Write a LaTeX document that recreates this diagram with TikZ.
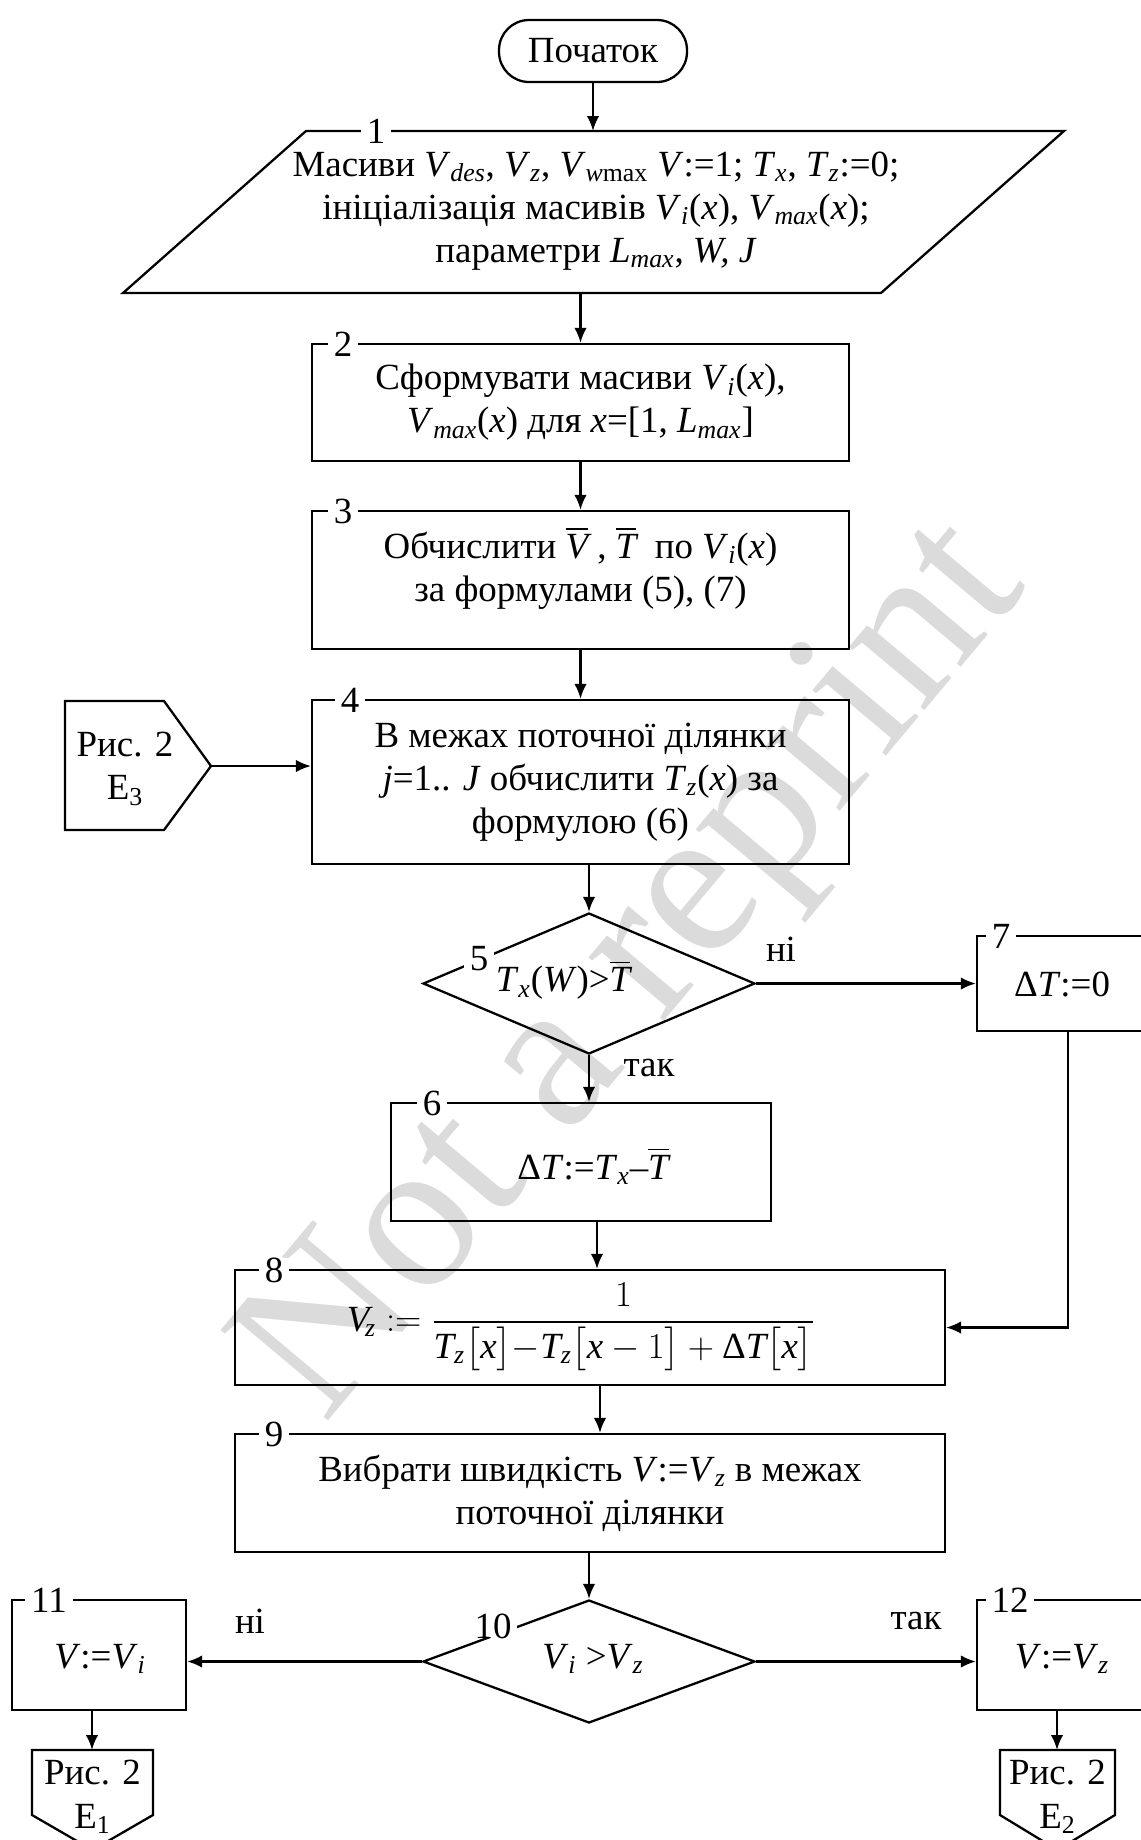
\documentclass[tikz,border=0pt]{standalone}
\usepackage{amsmath}
\usepackage{fontspec}
\setmainfont{Liberation Serif}
\usetikzlibrary{arrows.meta,shapes.geometric}
\newcommand{\msz}{\fontsize{21}{24.5}\selectfont}
\newcommand{\vv}[2]{\textit{#1}\textsubscript{\textit{#2}}}
\newcommand{\ovl}[1]{$\overline{\mathit{#1}}$}
\begin{document}
\begin{tikzpicture}[x=0.02cm,y=-0.02cm,
  every node/.style={font=\msz},
  box/.style={draw,line width=1.3pt,rectangle,inner sep=0pt,align=center},
  arr/.style={line width=1.3pt,-{Latex[length=0.3cm,width=0.25cm]}},
  ln/.style={line width=1.3pt},
  num/.style={fill=white,inner xsep=0.12cm,inner ysep=0pt},
  txt/.style={align=center,inner sep=0pt},
  wmark/.style={text=black!14,font=\fontsize{122}{122}\selectfont,rotate=50}]

\useasboundingbox (0,0) rectangle (1141,1840);
\clip (0,0) rectangle (1141,1840);
\fill[white] (0,0) rectangle (1141,1840);

\node[wmark] (wmk) at (640,975) {Not a reprint};

% start
\node[box,rounded corners=0.6cm,minimum width=3.76cm,minimum height=1.24cm] (st) at (593,51) {Початок};

% block 1 (parallelogram)
\draw[ln] (306,131) -- (1064,131) -- (881,293) -- (123,293) -- cycle;
\coordinate (p1n) at (593,131);
\coordinate (p1s) at (580.5,293);
\node[txt] (t1) at (596,211) {Масиви \vv{V}{des}, \vv{V}{z}, \textit{V}\textsubscript{\textit{w}max} \textit{V}:=1; \vv{T}{x}, \vv{T}{z}:=0;\\
ініціалізація масивів \vv{V}{i}(\textit{x}), \vv{V}{max}(\textit{x});\\
параметри \vv{L}{max}, \textit{W, J}};

% block 2
\node[box,minimum width=10.74cm,minimum height=2.34cm] (b2) at (580.5,402.5) {Сформувати масиви \vv{V}{i}(\textit{x}),\\ \vv{V}{max}(\textit{x}) для \textit{x}=[1, \vv{L}{max}]};
% block 3
\node[box,minimum width=10.74cm,minimum height=2.76cm] (b3) at (580.5,580) {};
\node[txt] (t3) at (580.5,568) {Обчислити \ovl{V} , \ovl{T}\ \ по \vv{V}{i}(\textit{x})\\ за формулами (5), (7)};
% block 4
\node[box,minimum width=10.74cm,minimum height=3.28cm] (b4) at (580.5,782) {В межах поточної ділянки\\ \textit{j}=1.. \textit{J} обчислити \vv{T}{z}(\textit{x}) за\\ формулою (6)};

% connector E3
\draw[ln] (65,701) -- (164,701) -- (211,766) -- (164,830) -- (65,830) -- cycle;
\coordinate (e3tip) at (211,766);
\node[txt] (te3) at (125,769) {Рис. 2\\ E\textsubscript{3}};

% decision 5
\node[draw,line width=1.3pt,diamond,inner sep=0pt,minimum width=6.64cm,minimum height=2.82cm] (d5) at (589,983.5) {};
\node[txt] (t5) at (563,980) {\vv{T}{x}(\textit{W})>\ovl{T}};

% block 7
\node[box,minimum width=3.46cm,minimum height=1.9cm] (b7) at (1063.5,983.5) {};
\node[txt] (t7) at (1062,984) {Δ\textit{T}:=0};

% block 6
\node[box,minimum width=7.6cm,minimum height=2.36cm] (b6) at (581,1162) {};
\node[txt] (t6) at (593,1166) {Δ\textit{T}:=\vv{T}{x}–\ovl{T}};

% block 8
\node[box,minimum width=14.2cm,minimum height=2.3cm] (b8) at (590,1327.5) {};
\node[txt] (t8) at (581,1327) {$\mathit{V}_{\!\mathit{z}}\mathrel{:=}\dfrac{1}{\mathit{T}_{\mathit{z}}\bigl[\mathit{x}\bigr]{-}\mathit{T}_{\mathit{z}}\bigl[\mathit{x}-1\bigr]+\mbox{Δ}\mathit{T}\bigl[\mathit{x}\bigr]}$};

% block 9
\node[box,minimum width=14.2cm,minimum height=2.36cm] (b9) at (590,1493) {Вибрати швидкість \textit{V}:=\vv{V}{z} в межах\\ поточної ділянки};

% decision 10
\node[draw,line width=1.3pt,diamond,inner sep=0pt,minimum width=6.64cm,minimum height=2.46cm] (d10) at (589,1661.5) {};
\node[txt] (t10) at (593,1659) {\vv{V}{i} >\vv{V}{z}};

% block 11, 12
\node[box,minimum width=3.48cm,minimum height=2.2cm] (b11) at (99,1655) {};
\node[txt] (t11) at (100,1659) {\textit{V}:=\vv{V}{i}};
\node[box,minimum width=3.46cm,minimum height=2.2cm] (b12) at (1063.5,1655) {};
\node[txt] (t12) at (1062,1659) {\textit{V}:=\vv{V}{z}};

% connectors E1, E2
\draw[ln] (32,1750) -- (153,1750) -- (153,1815) -- (92.5,1850) -- (32,1815) -- cycle;
\coordinate (e1top) at (92,1750);
\node[txt] (te1) at (92.5,1797) {Рис. 2\\ E\textsubscript{1}};
\draw[ln] (1000,1750) -- (1115,1750) -- (1115,1815) -- (1057.5,1850) -- (1000,1815) -- cycle;
\coordinate (e2top) at (1057,1750);
\node[txt] (te2) at (1057.5,1797) {Рис. 2\\ E\textsubscript{2}};

% number labels
\node[num] (n1) at (376,131) {1};
\node[num] (n2) at (343,344) {2};
\node[num] (n3) at (343,511) {3};
\node[num] (n4) at (350,700) {4};
\node[num] (n5) at (479,959) {5};
\node[num] (n6) at (432,1103) {6};
\node[num] (n7) at (1001,936) {7};
\node[num] (n8) at (274,1270) {8};
\node[num] (n9) at (274,1434) {9};
\node[num] (n10) at (493,1626) {10};
\node[num] (n11) at (49,1600) {11};
\node[num] (n12) at (1010,1600) {12};

% arrows
\draw[arr] (st.south) -- (p1n);
\draw[arr] (p1s) -- (b2.north);
\draw[arr] (b2.south) -- (b3.north);
\draw[arr] (b3.south) -- (b4.north);
\draw[arr] (d5.north |- b4.south) -- (d5.north);
\draw[arr] (e3tip) -- (e3tip -| b4.west);
\draw[arr] (d5.east) -- (d5.east -| b7.west);
\node (lno1) at (781,949) {ні};
\draw[arr] (d5.south) -- (d5.south |- b6.north);
\node (lyes1) at (649,1068) {так};
\draw[arr] ([xshift=0.32cm]b6.south) -- ([xshift=0.32cm]b6.south |- b8.north);
\coordinate (r7) at (1068,1327.5);
\draw[arr] (r7 |- b7.south) -- (r7) -- (b8.east);
\draw[arr] ([xshift=0.2cm]b8.south) -- ([xshift=0.2cm]b8.south |- b9.north);
\draw[arr] (d10.north |- b9.south) -- (d10.north);
\draw[arr] (d10.west) -- (d10.west -| b11.east);
\node (lno2) at (250,1621) {ні};
\draw[arr] (d10.east) -- (d10.east -| b12.west);
\node (lyes2) at (916,1621) {так};
\draw[arr] (e1top |- b11.south) -- (e1top);
\draw[arr] (e2top |- b12.south) -- (e2top);
\end{tikzpicture}
\end{document}
